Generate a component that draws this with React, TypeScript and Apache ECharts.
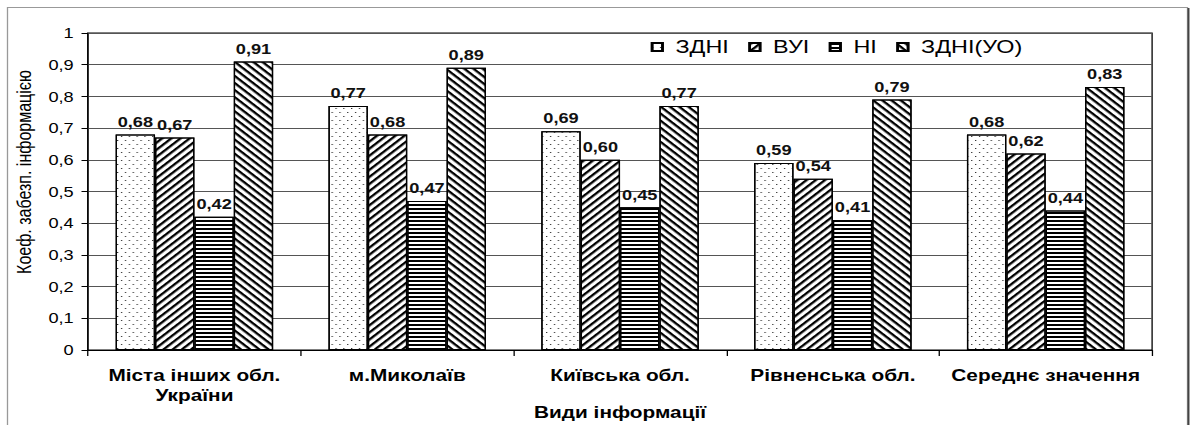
import React, { useEffect, useRef } from "react";
import * as echarts from "echarts";

const categories = ["Міста інших обл.\nУкраїни", "м.Миколаїв", "Київська обл.", "Рівненська обл.", "Середнє значення"];
const seriesNames = ["ЗДНІ", "ВУІ", "НІ", "ЗДНІ(УО)"];
const zdni = [0.68, 0.77, 0.69, 0.59, 0.68];
const vui = [0.67, 0.68, 0.6, 0.54, 0.62];
const ni = [0.42, 0.47, 0.45, 0.41, 0.44];
const zdniUo = [0.91, 0.89, 0.77, 0.79, 0.83];
const yTitle = "Коеф. забезп. інформацією";
const xTitle = "Види інформації";

const FONT = "'Liberation Sans', Arial, sans-serif";
// The reference picture is horizontally stretched; draw at a narrower width and stretch.
const SX = 1.3;
const W = 1192 / SX;
const H = 425;
const sx = (x: number) => x / SX;

const fmt = (v: number) => v.toFixed(2).replace(".", ",");

export default function App() {
  const ref = useRef<HTMLDivElement>(null);
  useEffect(() => {
    if (!ref.current) return;
    const chart = echarts.init(ref.current, null, { renderer: "svg" });
    const decals: any[] = [
      { symbol: "rect", symbolSize: 1, color: "#333", backgroundColor: "#fff", dashArrayX: [[1, 5], [0, 3, 1, 2]], dashArrayY: [1, 3], rotation: 0 },
      { symbol: "rect", symbolSize: 1, color: "#000", backgroundColor: "#fff", dashArrayX: [1, 0], dashArrayY: [2, 2.5], rotation: -Math.PI / 4 },
      { symbol: "rect", symbolSize: 1, color: "#000", backgroundColor: "#fff", dashArrayX: [1, 0], dashArrayY: [1.5, 1.5], rotation: 0 },
      { symbol: "rect", symbolSize: 1, color: "#000", backgroundColor: "#fff", dashArrayX: [1, 0], dashArrayY: [2, 2.5], rotation: Math.PI / 4 },
    ];
    const dataSets = [zdni, vui, ni, zdniUo];
    const option: any = {
      animation: false,
      backgroundColor: "#fff",
      textStyle: { fontFamily: FONT },
      grid: {
        left: sx(88),
        right: W - sx(1152),
        top: 33,
        bottom: H - 350,
        outerBoundsMode: "none",
        containLabel: false,
        show: true,
        borderColor: "#000",
        borderWidth: 1,
        backgroundColor: "transparent",
      },
      legend: {
        data: seriesNames,
        left: sx(643),
        top: 35,
        backgroundColor: "#fff",
        padding: [3, 6, 3, 6],
        itemWidth: 8,
        itemHeight: 8,
        itemGap: 15,
        icon: "rect",
        textStyle: { fontSize: 18, fontFamily: FONT, color: "#000", padding: [0, 0, 0, 5] },
      },
      xAxis: {
        type: "category",
        data: categories,
        axisLine: { lineStyle: { color: "#000", width: 1 } },
        axisTick: { show: true, length: 6, lineStyle: { color: "#000" } },
        axisLabel: { interval: 0, fontSize: 16, fontWeight: "bold", color: "#000", margin: 15, lineHeight: 20, fontFamily: FONT },
        name: xTitle,
        nameLocation: "middle",
        nameGap: 54,
        nameMoveOverlap: false,
        nameTextStyle: { fontSize: 16, fontWeight: "bold", color: "#000", fontFamily: FONT },
      },
      yAxis: {
        type: "value",
        min: 0,
        max: 1,
        interval: 0.1,
        axisLine: { show: true, lineStyle: { color: "#000" } },
        axisTick: { show: true, length: 5, lineStyle: { color: "#000" } },
        axisLabel: {
          fontSize: 14,
          color: "#000",
          margin: 11,
          fontFamily: FONT,
          formatter: (v: number) => (v === 0 ? "0" : v === 1 ? "1" : v.toFixed(1).replace(".", ",")),
        },
        splitLine: { show: true, lineStyle: { color: "#555", width: 1 } },
      },
      graphic: [
        { type: "rect", shape: { x: sx(7.5), y: 7.5, width: sx(1180), height: 430 }, style: { fill: "none", stroke: "#999", lineWidth: 1 }, silent: true, z: -1 },
        { type: "line", shape: { x1: sx(1188.5), y1: 8, x2: sx(1188.5), y2: 430 }, style: { stroke: "#444", lineWidth: 1.5 }, silent: true },
        {
          type: "text",
          x: sx(24),
          y: 172,
          rotation: Math.PI / 2,
          style: { text: yTitle, fontSize: 16, fontFamily: FONT, fill: "#000", align: "center", verticalAlign: "middle" },
          silent: true,
        },
      ],
      series: seriesNames.map((name, i) => ({
        name,
        type: "bar",
        data: dataSets[i],
        barGap: "0%",
        barCategoryGap: "26%",
        itemStyle: { color: "#fff", borderColor: "#000", borderWidth: 1, decal: decals[i] },
        label: {
          show: true,
          position: "top",
          distance: 6,
          fontSize: 14,
          fontWeight: "bold",
          color: "#111",
          fontFamily: FONT,
          formatter: (p: any) => fmt(p.value),
        },
      })),
    };
    chart.setOption(option);
    return () => chart.dispose();
  }, []);
  return (
    <div
      ref={ref}
      style={{
        position: "fixed",
        left: 0,
        top: 0,
        width: W,
        height: H,
        transform: `scaleX(${SX})`,
        transformOrigin: "0 0",
      }}
    />
  );
}
